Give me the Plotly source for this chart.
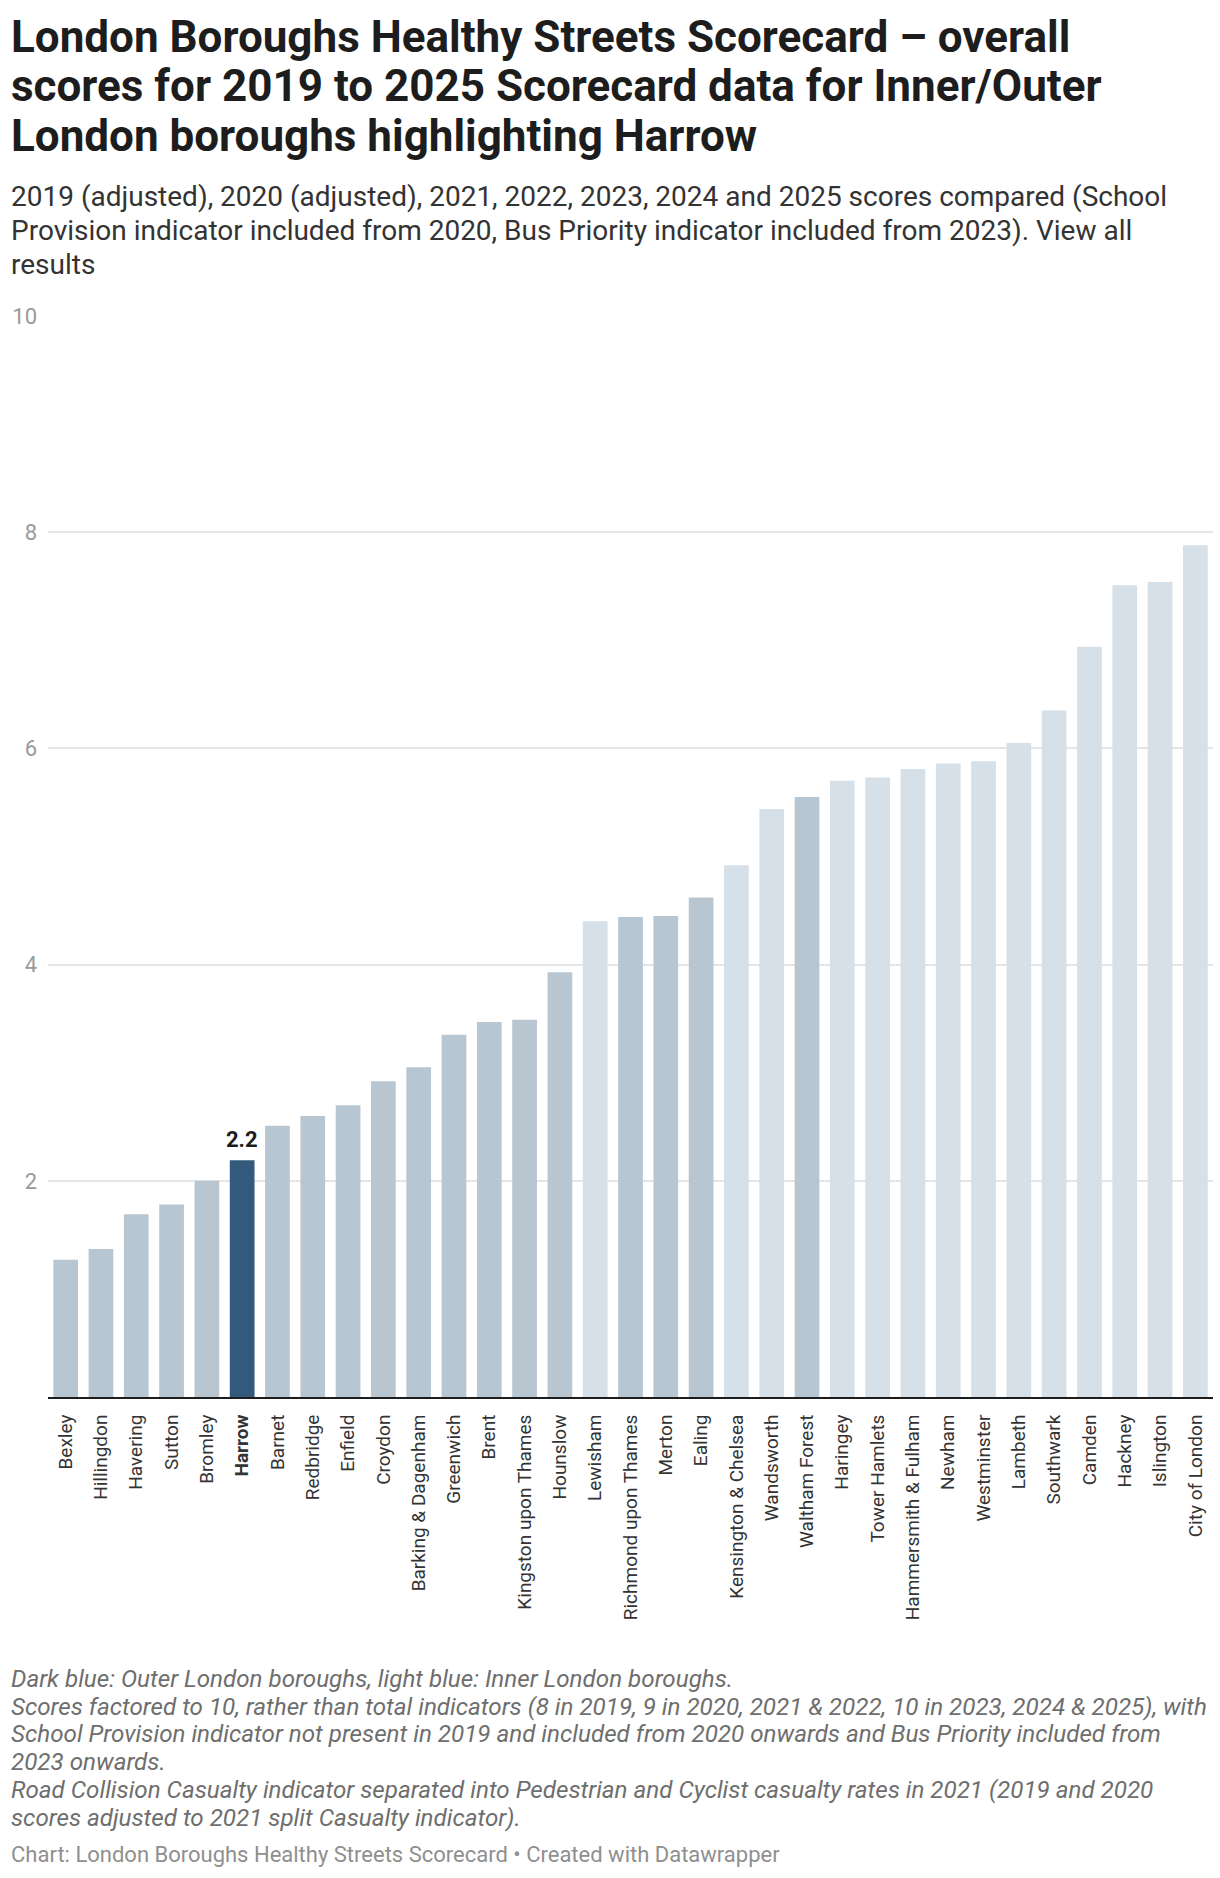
import plotly.graph_objects as go

boroughs = ["Bexley", "Hillingdon", "Havering", "Sutton", "Bromley", "Harrow", "Barnet",
            "Redbridge", "Enfield", "Croydon", "Barking & Dagenham", "Greenwich", "Brent",
            "Kingston upon Thames", "Hounslow", "Lewisham", "Richmond upon Thames", "Merton",
            "Ealing", "Kensington & Chelsea", "Wandsworth", "Waltham Forest", "Haringey",
            "Tower Hamlets", "Hammersmith & Fulham", "Newham", "Westminster", "Lambeth",
            "Southwark", "Camden", "Hackney", "Islington", "City of London"]
scores = [1.27, 1.37, 1.69, 1.78, 2.0, 2.19, 2.51, 2.6, 2.7, 2.92, 3.05, 3.35, 3.47,
          3.49, 3.93, 4.4, 4.44, 4.45, 4.62, 4.92, 5.44, 5.55, 5.7, 5.73, 5.81, 5.86,
          5.88, 6.05, 6.35, 6.94, 7.51, 7.54, 7.88]
groups = ["Outer"] * 15 + ["Inner"] + ["Outer"] * 3 + ["Inner"] * 2 + ["Outer"] + ["Inner"] * 11
highlight = "Harrow"
y_ticks = [2, 4, 6, 8, 10]

title_lines = ["London Boroughs Healthy Streets Scorecard – overall",
               "scores for 2019 to 2025 Scorecard data for Inner/Outer",
               "London boroughs highlighting Harrow"]
subtitle_lines = ["2019 (adjusted), 2020 (adjusted), 2021, 2022, 2023, 2024 and 2025 scores compared (School",
                  "Provision indicator included from 2020, Bus Priority indicator included from 2023). View all",
                  "results"]
note_lines = ["Dark blue: Outer London boroughs, light blue: Inner London boroughs.",
              "Scores factored to 10, rather than total indicators (8 in 2019, 9 in 2020, 2021 & 2022, 10 in 2023, 2024 & 2025), with",
              "School Provision indicator not present in 2019 and included from 2020 onwards and Bus Priority included from",
              "2023 onwards.",
              "Road Collision Casualty indicator separated into Pedestrian and Cyclist casualty rates in 2021 (2019 and 2020",
              "scores adjusted to 2021 split Casualty indicator)."]
credit = "Chart: London Boroughs Healthy Streets Scorecard • Created with Datawrapper"

W, H = 1220, 1878
PLOT_TOP, PLOT_BOTTOM, PLOT_LEFT, PLOT_RIGHT = 316, 1397, 48, 1213
plot_h = PLOT_BOTTOM - PLOT_TOP
plot_w = PLOT_RIGHT - PLOT_LEFT

def py(px):
    return (PLOT_BOTTOM - px) / plot_h

def pxx(px):
    return (px - PLOT_LEFT) / plot_w

color_map = {"Outer": "#b8c6d1", "Inner": "#d5e0e9"}
colors = ["#335a7c" if b == highlight else color_map[g] for b, g in zip(boroughs, groups)]
ticktext = [f"<b>{b}</b>" if b == highlight else b for b in boroughs]

fig = go.Figure(go.Bar(x=boroughs, y=scores, marker=dict(color=colors, line=dict(width=0)),
                       hoverinfo="x+y"))

annotations = []
FONT = "Roboto"
for i, t in enumerate(title_lines):
    annotations.append(dict(text=f"<b>{t}</b>", x=pxx(9), y=py(9 + i * 49.5), xref="paper", yref="paper",
                            xanchor="left", yanchor="top", showarrow=False,
                            font=dict(family=FONT, size=44, color="#1d1d1d")))
for i, t in enumerate(subtitle_lines):
    annotations.append(dict(text=t, x=pxx(9), y=py(178 + i * 34.2), xref="paper", yref="paper",
                            xanchor="left", yanchor="top", showarrow=False,
                            font=dict(family=FONT, size=28, color="#333333")))
for i, t in enumerate(note_lines):
    annotations.append(dict(text=f"<i>{t}</i>", x=pxx(9), y=py(1663 + i * 27.7), xref="paper", yref="paper",
                            xanchor="left", yanchor="top", showarrow=False,
                            font=dict(family=FONT, size=24.2, color="#6e6e6e")))
annotations.append(dict(text=credit, x=pxx(9), y=py(1840), xref="paper", yref="paper",
                        xanchor="left", yanchor="top", showarrow=False,
                        font=dict(family=FONT, size=22, color="#8f8f8f")))

hi = boroughs.index(highlight)
annotations.append(dict(text=f"<b>{scores[hi]:.1f}</b>", x=boroughs[hi], y=scores[hi], xref="x", yref="y",
                        xanchor="center", yanchor="bottom", yshift=6, showarrow=False,
                        font=dict(family=FONT, size=22, color="#1d1d1d")))

fig.update_layout(
    width=W, height=H,
    margin=dict(l=PLOT_LEFT, r=W - PLOT_RIGHT, t=PLOT_TOP, b=H - PLOT_BOTTOM, pad=0),
    paper_bgcolor="white", plot_bgcolor="white",
    bargap=0.3, showlegend=False,
    font=dict(family=FONT),
    annotations=annotations,
)
fig.update_xaxes(type="category", tickmode="array", tickvals=boroughs, ticktext=ticktext,
                 tickangle=-90, tickfont=dict(family=FONT, size=19, color="#333333"),
                 showline=True, linecolor="#1d1d1d", linewidth=2, showgrid=False,
                 ticks="", ticklabelstandoff=8, range=[-0.5, len(boroughs) - 0.5], fixedrange=True)
fig.update_yaxes(range=[0, 10], tickmode="array", tickvals=y_ticks, showgrid=True,
                 gridcolor="#e5e5e5", gridwidth=1.5, zeroline=False, showline=False,
                 ticks="", ticklabelstandoff=10, tickfont=dict(family=FONT, size=22, color="#9a9a9a"),
                 fixedrange=True)

fig.write_html("out.html", config={"displayModeBar": False},
               post_script="document.body.style.margin='0';document.body.style.overflow='hidden';")
